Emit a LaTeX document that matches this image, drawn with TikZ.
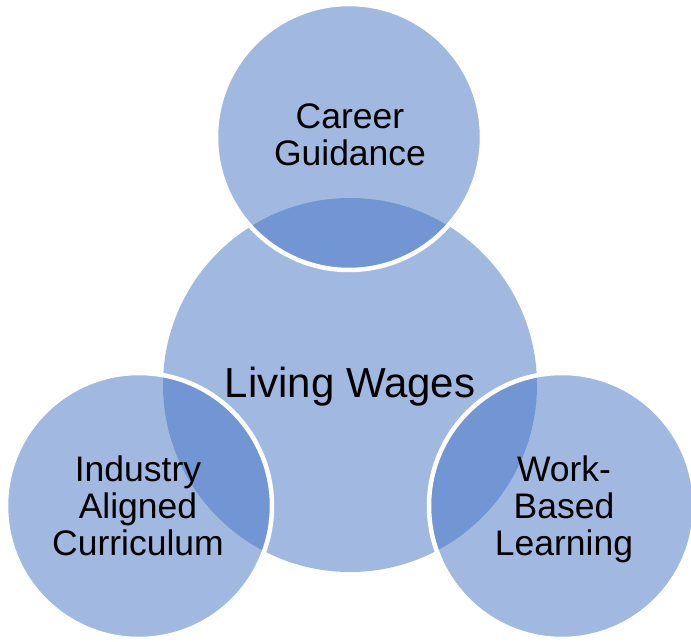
\documentclass[tikz,border=0pt]{standalone}
\usepackage{fontspec}
\setmainfont{Liberation Sans}
\definecolor{venn}{HTML}{4472C4}
\begin{document}
\begin{tikzpicture}[x=1pt,y=-1pt,
  bigcirc/.style={fill=venn,fill opacity=0.5,draw=none},
  smallcirc/.style={fill=venn,fill opacity=0.5,draw=white,draw opacity=1,line width=4.5pt},
  lbl/.style={text=black,align=center,inner sep=0pt,font=\fontsize{35.5}{37}\selectfont},
  mainlbl/.style={text=black,inner sep=0pt,font=\fontsize{42}{48}\selectfont}]
\useasboundingbox (0,0) rectangle (691,642);
\begin{scope}
\clip (0,0) rectangle (691,642);
\path[bigcirc] (350,385) circle[radius=187];
\path[smallcirc] (349,137) circle[radius=133];
\path[smallcirc] (139,506) circle[radius=133];
\path[smallcirc] (562,506) circle[radius=133];
\end{scope}
\node[mainlbl,anchor=base] (living) at (350,397) {Living Wages};
\node[lbl] (career) at (350,135) {Career\\Guidance};
\node[lbl] (industry) at (138,506) {Industry\\Aligned\\Curriculum};
\node[lbl] (work) at (564,509.5) {Work-\\Based\\Learning};
\end{tikzpicture}
\end{document}
